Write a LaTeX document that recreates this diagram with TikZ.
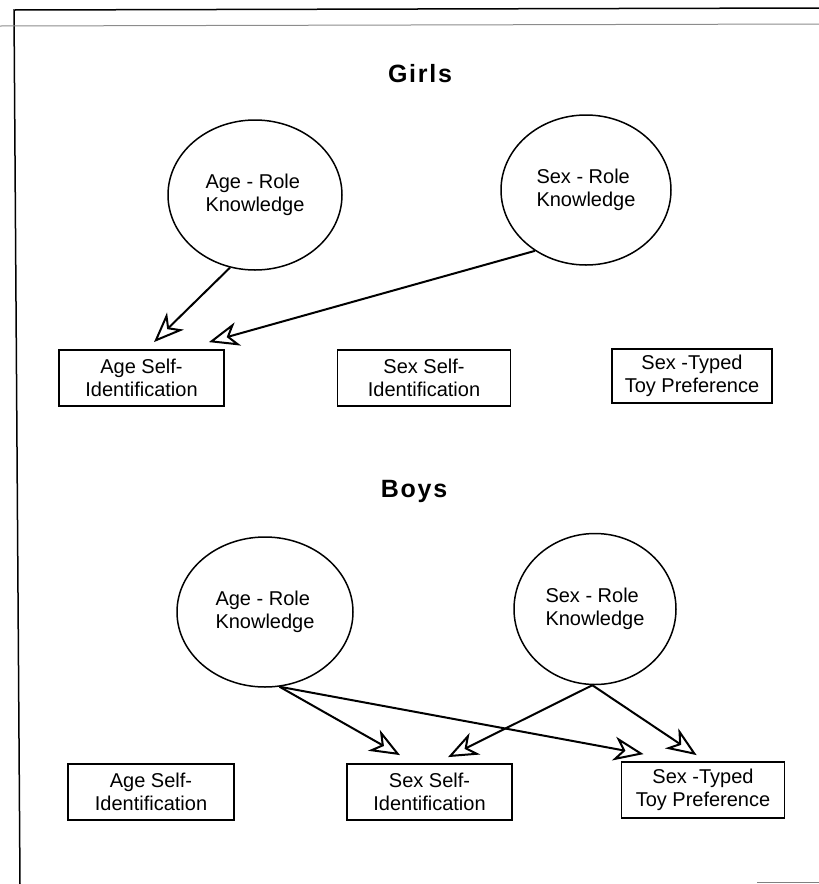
\documentclass[tikz,border=0pt]{standalone}
\usepackage{fontspec}
\setmainfont{Liberation Sans}
\newfontfamily\trackedsans[LetterSpace=7]{Liberation Sans}
\usetikzlibrary{shapes.geometric,arrows.meta}
\begin{document}
\begin{tikzpicture}[x=1pt,y=-1pt,
		heading/.style={font=\trackedsans\bfseries\fontsize{25}{30}\selectfont, inner sep=0pt, anchor=base},
		knowledge/.style={draw, ellipse, line width=1.5pt, inner sep=0pt, align=left, font=\fontsize{20}{23}\selectfont},
		selfbox/.style={draw, rectangle, line width=1.8pt, inner sep=0pt, minimum height=56pt, align=center, font=\fontsize{20}{22.5}\selectfont},
		link/.style={line width=2pt, -{Stealth[open, length=30pt, width=24pt, inset=9pt]}}]
		\useasboundingbox (0,0) rectangle (819,884);

		\draw[line width=1.5pt] (20,884) -- (14,10) -- (819,8);
		\draw[black!45, line width=1pt] (0,26) -- (819,24);
		\draw[black!50, line width=1.2pt] (757,882.5) -- (819,882.5);

		\node[heading] (girls) at (420,82) {Girls};

		\node[knowledge, minimum width=174pt, minimum height=150pt] (gAgeK) at (255,195) {Age - Role\\Knowledge};
		\node[knowledge, minimum width=170pt, minimum height=150pt] (gSexK) at (586,190) {Sex - Role\\Knowledge};

		\node[selfbox, minimum width=165pt] (gAgeS) at (141.5,378) {Age Self-\\Identification};
		\node[selfbox, minimum width=173pt] (gSexS) at (424,378) {Sex Self-\\Identification};
		\node[selfbox, minimum width=160pt, minimum height=54pt] (gToy) at (692,376) {Sex -Typed\\Toy Preference};

		\draw[link] (gAgeK.251) -- ([xshift=12.5pt,yshift=7pt]gAgeS.north);
		\draw[link] (gSexK.230) -- ([xshift=-16pt,yshift=7pt]gAgeS.north east);

		\node[heading] (boys) at (414,497) {Boys};

		\node[knowledge, minimum width=176pt, minimum height=150pt] (bAgeK) at (265,612) {Age - Role\\Knowledge};
		\node[knowledge, minimum width=162pt, minimum height=151pt] (bSexK) at (595,609) {Sex - Role\\Knowledge};

		\node[selfbox, minimum width=166pt] (bAgeS) at (151,792) {Age Self-\\Identification};
		\node[selfbox, minimum width=165pt] (bSexS) at (429.5,792) {Sex Self-\\Identification};
		\node[selfbox, minimum width=163pt] (bToy) at (703,790) {Sex -Typed\\Toy Preference};

		\draw[link] (bAgeK.281) -- ([xshift=-29.5pt,yshift=8pt]bSexS.north);
		\draw[link] (bAgeK.281) -- ([xshift=23pt,yshift=7pt]bToy.north west);
		\draw[link] (bSexK.268) -- ([xshift=18.5pt,yshift=6pt]bSexS.north);
		\draw[link] (bSexK.268) -- ([xshift=76pt,yshift=6pt]bToy.north west);

	\end{tikzpicture}
\end{document}
